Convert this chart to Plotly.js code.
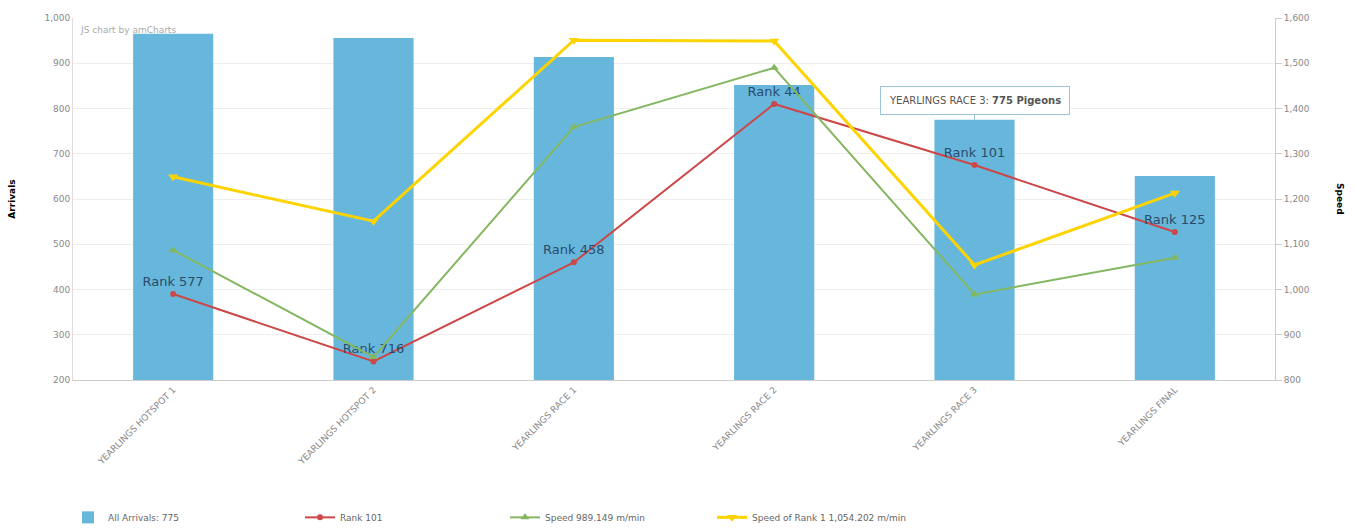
<!DOCTYPE html>
<html>
<head>
<meta charset="utf-8">
<script src="https://cdn.plot.ly/plotly-3.0.1.min.js"></script>
<style>html,body{margin:0;padding:0;background:#fff;}#chart{width:1355px;height:529px;}</style>
</head>
<body>
<div id="chart"></div>
<script>
const categories = ["YEARLINGS HOTSPOT 1","YEARLINGS HOTSPOT 2","YEARLINGS RACE 1","YEARLINGS RACE 2","YEARLINGS RACE 3","YEARLINGS FINAL"];
const arrivals = [965, 956, 914, 852, 775, 651];
const rankPlot = [390, 241, 460, 810, 675, 527];
const rankLabels = ["Rank 577","Rank 716","Rank 458","Rank 44","Rank 101","Rank 125"];
const speed = [1087, 851, 1359, 1490, 989.149, 1070];
const speedRank1 = [1249, 1151, 1551, 1549, 1054.202, 1213];
const legendNames = ["All Arrivals: 775","Rank 101","Speed 989.149 m/min","Speed of Rank 1 1,054.202 m/min"];

const FONT = "DejaVu Sans, Verdana, sans-serif";
const traces = [
  {type:'bar', x:categories, y:arrivals, name:legendNames[0], marker:{color:'#67b7dc'}, width:0.4, yaxis:'y', legend:'legend'},
  {type:'scatter', mode:'lines+markers+text', x:categories, y:rankPlot, name:legendNames[1],
   line:{color:'#cc4748', width:2}, marker:{color:'#cc4748', size:6, symbol:'circle'},
   text:rankLabels, textposition:'top center', textfont:{family:FONT, size:13, color:'#2a4b6b'}, yaxis:'y', legend:'legend2'},
  {type:'scatter', mode:'lines+markers', x:categories, y:speed, name:legendNames[2],
   line:{color:'#84b761', width:2}, marker:{color:'#84b761', size:8, symbol:'triangle-up'}, yaxis:'y2', legend:'legend3'},
  {type:'scatter', mode:'lines+markers', x:categories, y:speedRank1, name:legendNames[3],
   line:{color:'#fdd400', width:3}, marker:{color:'#fdd400', size:9, symbol:'triangle-down'}, yaxis:'y2', legend:'legend4'}
];

function leg(xpx){
  return {orientation:'h', x:(xpx-73)/1202, xanchor:'left', yref:'container', y:0.022, yanchor:'middle',
          font:{family:FONT, size:9, color:'#666'}, itemwidth:30, bgcolor:'rgba(0,0,0,0)'};
}

const layout = {
  width:1355, height:529,
  margin:{l:73, r:80, t:18, b:149},
  paper_bgcolor:'#fff', plot_bgcolor:'#fff',
  font:{family:FONT, size:10, color:'#777'},
  showlegend:true,
  legend:leg(68), legend2:leg(300), legend3:leg(505), legend4:leg(712),
  xaxis:{type:'category', range:[-0.5,5.5], tickangle:-45, tickfont:{family:FONT, size:9, color:'#888'},
         showline:true, linecolor:'#ccc', linewidth:1, showgrid:false, ticks:'', automargin:false},
  yaxis:{range:[200,1000], dtick:100, tickformat:',d', showline:true, linecolor:'#ddd', gridcolor:'#eee',
         tickfont:{family:FONT, size:9, color:'#888'}, ticks:'', zeroline:false, automargin:false},
  yaxis2:{range:[800,1600], dtick:100, tickformat:',d', overlaying:'y', side:'right', showline:true, linecolor:'#ccc',
          showgrid:false, ticks:'outside', ticklen:6, tickcolor:'#ccc', tickfont:{family:FONT, size:9, color:'#888'},
          zeroline:false, automargin:false},
  bargap:0.6,
  hovermode:false,
  annotations:[
    {xref:'paper', yref:'paper', x:-0.051, y:0.5, text:'<b>Arrivals</b>', showarrow:false, textangle:-90,
     font:{family:FONT, size:9, color:'#000'}, xanchor:'center', yanchor:'middle'},
    {xref:'paper', yref:'paper', x:1.054, y:0.5, text:'<b>Speed</b>', showarrow:false, textangle:90,
     font:{family:FONT, size:9, color:'#000'}, xanchor:'center', yanchor:'middle'},
    {xref:'paper', yref:'paper', x:0.004, y:0.967, text:'JS chart by amCharts', showarrow:false,
     font:{family:FONT, size:9, color:'#aaa'}, xanchor:'left', yanchor:'middle'},
    {xref:'x', yref:'y', x:categories[4], y:arrivals[4], text:'YEARLINGS RACE 3: <b>775 Pigeons</b>',
     showarrow:true, arrowhead:0, arrowwidth:1, arrowcolor:'#9cc3d6', ax:0, ay:-5,
     bgcolor:'#fff', bordercolor:'#9cc3d6', borderwidth:1, borderpad:8,
     font:{family:FONT, size:10, color:'#555'}, yanchor:'bottom'}
  ]
};

Plotly.newPlot('chart', traces, layout, {displayModeBar:false, staticPlot:true});
</script>
</body>
</html>
